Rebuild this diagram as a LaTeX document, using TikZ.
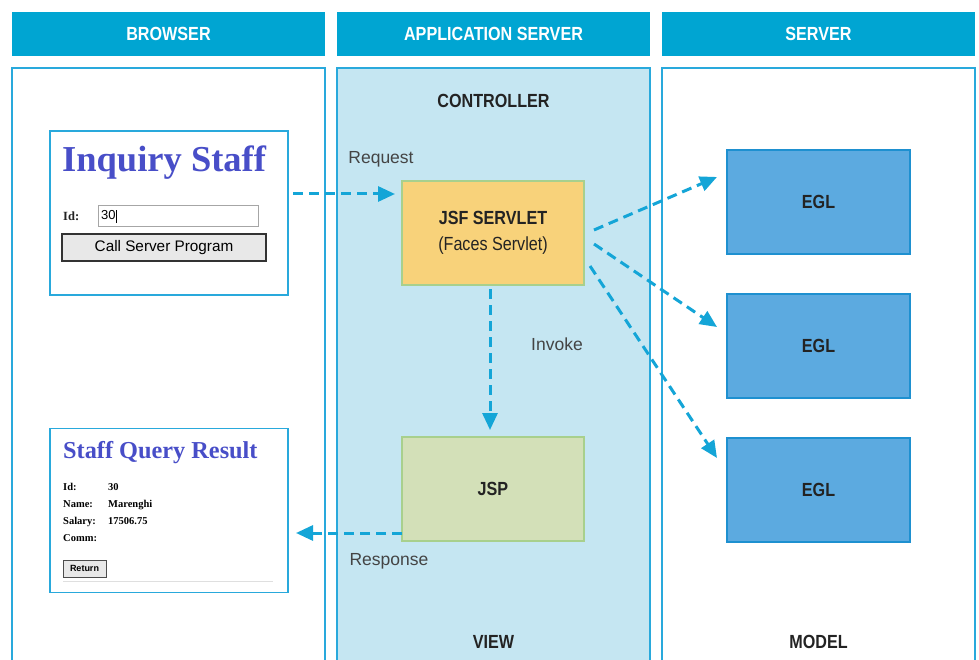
\documentclass[tikz,border=0pt]{standalone}
\usepackage{fontspec}
\setmainfont{Liberation Sans}
\newfontfamily\cond[FakeStretch=0.85]{Liberation Sans}
\newfontfamily\tms{Liberation Serif}
\usetikzlibrary{arrows.meta,calc}
\definecolor{hdr}{RGB}{0,165,210}
\definecolor{pnl}{RGB}{41,169,220}
\definecolor{appfill}{RGB}{197,230,242}
\definecolor{jsffill}{RGB}{248,210,122}
\definecolor{grn}{RGB}{168,208,141}
\definecolor{jspfill}{RGB}{211,224,184}
\definecolor{eglfill}{RGB}{92,170,224}
\definecolor{eglbd}{RGB}{30,144,208}
\definecolor{arr}{RGB}{20,165,215}
\definecolor{scr}{RGB}{72,78,200}
\definecolor{txt}{RGB}{35,35,35}
\tikzset{
  hdrbox/.style={fill=hdr,draw=none,minimum width=313pt,minimum height=44pt,inner sep=0,outer sep=0,text=white,font=\cond\bfseries\fontsize{19}{22}\selectfont},
  panel/.style={draw=pnl,line width=1.2pt},
  shot/.style={draw=pnl,line width=1.2pt,fill=white,minimum width=238pt,minimum height=164pt,inner sep=0,outer sep=0},
  jsfbox/.style={draw=grn,line width=2.2pt,fill=jsffill,minimum width=182pt,minimum height=104pt,inner sep=0,outer sep=0,align=center,text=txt,font=\cond\fontsize{19}{26}\selectfont},
  jspbox/.style={draw=grn,line width=2.2pt,fill=jspfill,minimum width=182pt,minimum height=104pt,inner sep=0,outer sep=0,text=txt,font=\cond\bfseries\fontsize{19}{22}\selectfont},
  eglbox/.style={draw=eglbd,line width=2.2pt,fill=eglfill,minimum width=183pt,minimum height=104pt,inner sep=0,outer sep=0,text=txt,font=\cond\bfseries\fontsize{19}{22}\selectfont},
  flow/.style={draw=arr,line width=3pt,dash pattern=on 10pt off 6pt,-{Triangle[length=17pt,width=15pt]}},
  sect/.style={text=txt,font=\cond\bfseries\fontsize{19}{22}\selectfont},
  lbl/.style={text=txt!85,font=\fontsize{17.5}{20}\selectfont},
}
\begin{document}
\begin{tikzpicture}[x=1pt,y=-1pt]
\useasboundingbox (0,0) rectangle (979,660);
\fill[white] (0,0) rectangle (979,660);
% headers
\node[hdrbox] (h1) at (168.5,34) {BROWSER};
\node[hdrbox] (h2) at (493.5,34) {APPLICATION SERVER};
\node[hdrbox] (h3) at (818.5,34) {SERVER};
% panels
\draw[panel] (12,68) rectangle (325,670);
\draw[panel,fill=appfill] (337,68) rectangle (650,670);
\draw[panel] (662,68) rectangle (975,670);
% section labels
\node[sect] (ctrl) at (493.5,101) {CONTROLLER};
\node[sect] (view) at (493.5,642) {VIEW};
\node[sect] (model) at (818.5,642) {MODEL};
% screenshots
\node[shot] (inq) at (169,213) {};
\node[shot] (res) at (169,510.5) {};
\node[anchor=base west,text=scr,font=\tms\bfseries\fontsize{36.5}{40}\selectfont,inner sep=0] (inqt) at (62,172) {Inquiry Staff};
\node[anchor=base west,text=txt,font=\tms\bfseries\fontsize{12.5}{14}\selectfont,inner sep=0] (idl) at (63,221) {Id:};
\node[draw=gray!70,line width=1pt,fill=white,minimum width=160pt,minimum height=21pt,inner sep=0,outer sep=0] (idf) at (178,216.5) {};
\node[anchor=west,text=black,font=\fontsize{13}{14}\selectfont,inner sep=0] (idv) at (101,216.5) {30\rule[-3pt]{0.8pt}{13pt}};
\node[draw=black!80,line width=1.3pt,fill=gray!18,minimum width=204pt,minimum height=27pt,inner sep=0,outer sep=0,font=\fontsize{15.3}{18}\selectfont,text=black] (btn) at (164,247.5) {Call Server Program};
\node[anchor=base west,text=scr,font=\tms\bfseries\fontsize{24.3}{26}\selectfont,inner sep=0] (rest) at (63,458) {Staff Query Result};
\begin{scope}[every node/.style={anchor=base west,inner sep=0,text=black,font=\tms\bfseries\fontsize{10.5}{12}\selectfont}]
\node (f1) at (63,490) {Id:};
\node (v1) at (108,490) {30};
\node (f2) at (63,507) {Name:};
\node (v2) at (108,507) {Marenghi};
\node (f3) at (63,524) {Salary:};
\node (v3) at (108,524) {17506.75};
\node (f4) at (63,541) {Comm:};
\end{scope}
\node[draw=black!70,line width=1pt,fill=gray!18,minimum width=43pt,minimum height=17pt,inner sep=0,outer sep=0,font=\fontsize{9}{10}\selectfont\bfseries,text=black] (rbtn) at (84.5,568.5) {Return};
\draw[gray!25,line width=1pt] (63,581) -- (273,581);
% boxes
\node[jsfbox] (jsf) at (493,233) {\textbf{JSF SERVLET}\\(Faces Servlet)};
\node[jspbox] (jsp) at (493,489) {JSP};
\node[eglbox] (egl1) at (818.5,202) {EGL};
\node[eglbox] (egl2) at (818.5,346) {EGL};
\node[eglbox] (egl3) at (818.5,490) {EGL};
% connectors
\draw[flow] ([shift={(5,-19)}]inq.east) -- ([shift={(-7,-39)}]jsf.west);
\draw[flow] ([shift={(-3,4)}]jsf.south) -- ([shift={(-3,-7)}]jsp.north);
\draw[flow] ([shift={(0,44)}]jsp.west) -- ([shift={(8,22.5)}]res.east);
\draw[flow] ([shift={(10,-3)}]jsf.east) -- ([shift={(-10,-25)}]egl1.west);
\draw[flow] ([shift={(10,11)}]jsf.east) -- ([shift={(-10,-19)}]egl2.west);
\draw[flow] ([shift={(6,33)}]jsf.east) -- ([shift={(-10,-32)}]egl3.west);
% labels
\node[lbl] (lreq) at (381,159) {Request};
\node[lbl] (linv) at (557,344) {Invoke};
\node[lbl] (lres) at (389,561) {Response};
\end{tikzpicture}
\end{document}
